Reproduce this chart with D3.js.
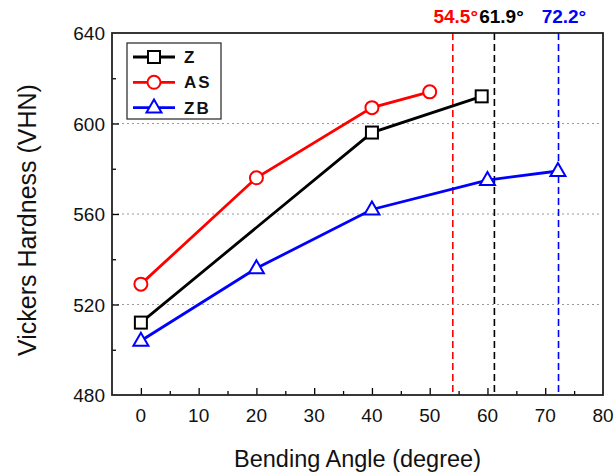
<!DOCTYPE html>
<html>
<head>
<meta charset="utf-8">
<script src="https://cdn.jsdelivr.net/npm/d3@7.9.0/dist/d3.min.js"></script>
<style>
  body { margin: 0; background: #fff; }
  svg { display: block; font-family: Arial, "Liberation Sans", sans-serif; }
</style>
</head>
<body>
<svg id="chart" width="616" height="476"></svg>
<script>
// data
const zAngle = [0, 40, 59];
const zHard = [512, 596, 612];
const asAngle = [0, 20, 40, 50];
const asHard = [529, 576, 607, 614];
const zbAngle = [0, 20, 40, 60, 72.2];
const zbHard = [504, 536, 562, 575, 579];

const critLabels = ['54.5°', '61.9°', '72.2°'];
const critValues = [54.5, 61.9, 72.2];
const critLinePos = [54, 61.2, 72.3];
const critColors = ['#ff0000', '#000000', '#0000ff'];

const xTicks = [0, 10, 20, 30, 40, 50, 60, 70, 80];
const yTicks = [480, 520, 560, 600, 640];

const series = [
  { name: 'Z', color: '#000000', marker: 'square', x: zAngle, y: zHard },
  { name: 'AS', color: '#ff0000', marker: 'circle', x: asAngle, y: asHard },
  { name: 'ZB', color: '#0000ff', marker: 'triangle', x: zbAngle, y: zbHard }
];

const svg = d3.select('#chart');
const pLeft = 112, pRight = 603, pTop = 33, pBottom = 395;

const x = d3.scaleLinear().domain([-5, 80]).range([pLeft, pRight]);
const y = d3.scaleLinear().domain([480, 640]).range([pBottom, pTop]);

// grid lines
svg.append('g')
  .selectAll('line')
  .data([520, 560, 600])
  .join('line')
  .attr('x1', pLeft).attr('x2', pRight)
  .attr('y1', d => y(d)).attr('y2', d => y(d))
  .attr('stroke', '#999')
  .attr('stroke-width', 1)
  .attr('stroke-dasharray', '2,3');

// critical angle dashed lines
critLinePos.forEach((v, i) => {
  svg.append('line')
    .attr('x1', x(v)).attr('x2', x(v))
    .attr('y1', pTop).attr('y2', pBottom)
    .attr('stroke', critColors[i])
    .attr('stroke-width', 1.6)
    .attr('stroke-dasharray', '7,4');
});

// axes with inward ticks
const xAxis = d3.axisBottom(x)
  .tickValues(d3.range(0, 80, 5))
  .tickSize(-7)
  .tickFormat('');
const gx = svg.append('g').attr('transform', `translate(0,${pBottom})`).call(xAxis);
gx.select('.domain').remove();
gx.selectAll('.tick line')
  .attr('y2', d => d % 10 === 0 ? -7 : -4)
  .attr('stroke', '#000')
  .attr('stroke-width', 1.3);

const yAxis = d3.axisLeft(y)
  .tickValues(d3.range(500, 640, 20))
  .tickSize(-7)
  .tickFormat('');
const gy = svg.append('g').attr('transform', `translate(${pLeft},0)`).call(yAxis);
gy.select('.domain').remove();
gy.selectAll('.tick line')
  .attr('x2', d => d % 40 === 0 ? 7 : 4)
  .attr('stroke', '#000')
  .attr('stroke-width', 1.3);

// frame
svg.append('rect')
  .attr('x', pLeft).attr('y', pTop)
  .attr('width', pRight - pLeft).attr('height', pBottom - pTop)
  .attr('fill', 'none')
  .attr('stroke', '#222')
  .attr('stroke-width', 1.8);

// tick labels
svg.append('g')
  .selectAll('text')
  .data(xTicks)
  .join('text')
  .attr('x', d => x(d))
  .attr('y', 422)
  .attr('text-anchor', 'middle')
  .attr('font-size', 19)
  .attr('fill', '#111')
  .text(d => d);

svg.append('g')
  .selectAll('text')
  .data(yTicks)
  .join('text')
  .attr('x', 105)
  .attr('y', d => y(d) + 7)
  .attr('text-anchor', 'end')
  .attr('font-size', 19)
  .attr('fill', '#111')
  .text(d => d);

// axis titles
svg.append('text')
  .attr('x', (pLeft + pRight) / 2)
  .attr('y', 467)
  .attr('text-anchor', 'middle')
  .attr('font-size', 23.5)
  .attr('fill', '#111')
  .text('Bending Angle (degree)');

svg.append('text')
  .attr('transform', `translate(36,${(pTop + pBottom) / 2 + 6}) rotate(-90)`)
  .attr('text-anchor', 'middle')
  .attr('font-size', 25)
  .attr('fill', '#111')
  .text('Vickers Hardness (VHN)');

// markers
function drawMarker(g, type, cx, cy, color) {
  if (type === 'square') {
    g.append('rect')
      .attr('x', cx - 6).attr('y', cy - 6)
      .attr('width', 12).attr('height', 12)
      .attr('fill', '#fff').attr('stroke', color).attr('stroke-width', 2);
  } else if (type === 'circle') {
    g.append('circle')
      .attr('cx', cx).attr('cy', cy).attr('r', 6.5)
      .attr('fill', '#fff').attr('stroke', color).attr('stroke-width', 2);
  } else {
    g.append('path')
      .attr('d', `M${cx},${cy - 8}L${cx + 7.5},${cy + 5}L${cx - 7.5},${cy + 5}Z`)
      .attr('fill', '#fff').attr('stroke', color).attr('stroke-width', 2);
  }
}

const line = d3.line().x(d => x(d[0])).y(d => y(d[1]));

series.forEach(s => {
  const pts = s.x.map((v, i) => [v, s.y[i]]);
  const g = svg.append('g');
  g.append('path')
    .attr('d', line(pts))
    .attr('fill', 'none')
    .attr('stroke', s.color)
    .attr('stroke-width', 2.8);
  pts.forEach(p => drawMarker(g, s.marker, x(p[0]), y(p[1]), s.color));
});

// top labels for critical angles
critLabels.forEach((t, i) => {
  svg.append('text')
    .attr('x', x(critValues[i]) + [0, 3, 6][i])
    .attr('y', 23)
    .attr('text-anchor', 'middle')
    .attr('font-size', 19)
    .attr('font-weight', 'bold')
    .attr('fill', critColors[i])
    .text(t);
});

// legend
const lg = svg.append('g');
lg.append('rect')
  .attr('x', 127).attr('y', 43)
  .attr('width', 94).attr('height', 76)
  .attr('fill', '#fff')
  .attr('stroke', '#333')
  .attr('stroke-width', 1.3);

series.forEach((s, i) => {
  const ly = 57 + i * 25.3;
  lg.append('line')
    .attr('x1', 133).attr('x2', 175)
    .attr('y1', ly).attr('y2', ly)
    .attr('stroke', s.color)
    .attr('stroke-width', 2.8);
  drawMarker(lg, s.marker, 154, ly, s.color);
  lg.append('text')
    .attr('x', 184)
    .attr('y', ly + 6)
    .attr('font-size', 17)
    .attr('font-weight', 'bold')
    .attr('letter-spacing', 2)
    .attr('fill', '#111')
    .text(s.name);
});
</script>
</body>
</html>
